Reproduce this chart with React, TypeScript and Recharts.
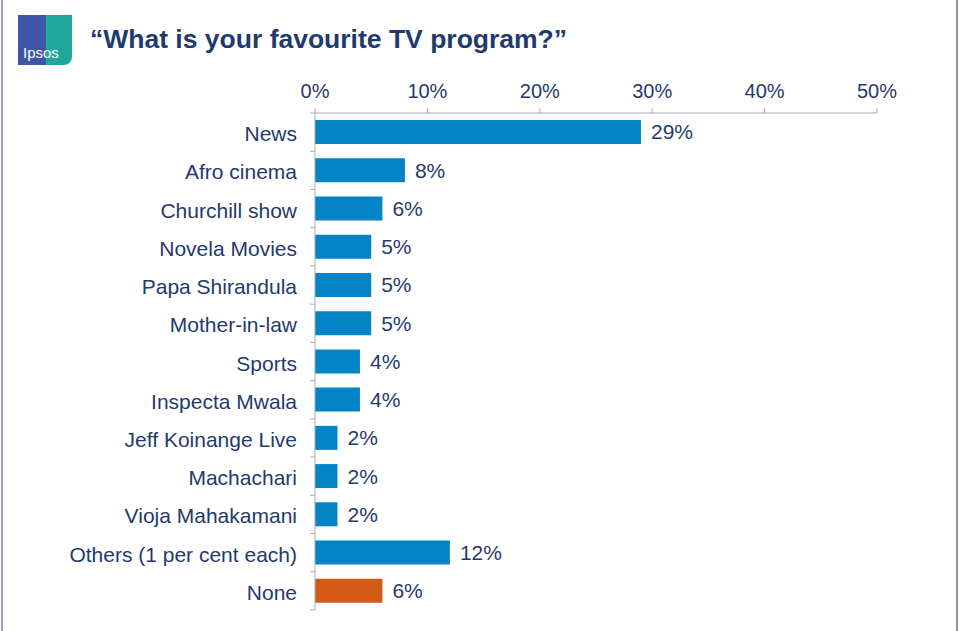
import React from 'react';
import { BarChart, Bar, XAxis, YAxis, LabelList, Cell } from 'recharts';

const programs = [
  'News',
  'Afro cinema',
  'Churchill show',
  'Novela Movies',
  'Papa Shirandula',
  'Mother-in-law',
  'Sports',
  'Inspecta Mwala',
  'Jeff Koinange Live',
  'Machachari',
  'Vioja Mahakamani',
  'Others (1 per cent each)',
  'None',
];
const shares = [29, 8, 6, 5, 5, 5, 4, 4, 2, 2, 2, 12, 6];
const percentTicks = [0, 10, 20, 30, 40, 50];

const data = programs.map((name, i) => ({ name, value: shares[i] }));

const NAVY = '#1f3a6e';
const BLUE = '#0284c7';
const ORANGE = '#d55a17';
const AXIS = '#a3abb9';

const PLOT_TOP = 113;
const PLOT_BOTTOM = 610;
const BAND = (PLOT_BOTTOM - PLOT_TOP) / programs.length;

const CategoryTick = (props: any) => {
  const { x, y, payload } = props;
  return (
    <g>
      <text x={x} y={y} dy={9} textAnchor="end" fill={NAVY} fontSize={21}>
        {payload.value}
      </text>
      <line x1={310} x2={315} y1={y + BAND / 2} y2={y + BAND / 2} stroke={AXIS} />
      {payload.index === 0 && (
        <line x1={310} x2={315} y1={y - BAND / 2} y2={y - BAND / 2} stroke={AXIS} />
      )}
    </g>
  );
};

export default function App() {
  return (
    <div
      style={{
        position: 'absolute',
        left: 0,
        top: 0,
        width: 960,
        height: 631,
        background: '#fff',
        fontFamily: '"Liberation Sans", Arial, sans-serif',
        overflow: 'hidden',
      }}
    >
      <div style={{ position: 'absolute', left: 1, top: 0, width: 2, height: 631, background: '#9aa0aa' }} />
      <div style={{ position: 'absolute', left: 956, top: 0, width: 2, height: 631, background: '#8c939d' }} />
      <div
        style={{
          position: 'absolute',
          left: 18,
          top: 15,
          width: 54,
          height: 50,
          background: 'linear-gradient(90deg, #3f56a8 0%, #3f56a8 52%, #1fa99b 52%, #1fa99b 100%)',
          borderBottomRightRadius: 8,
        }}
      >
        <span
          style={{
            position: 'absolute',
            left: 5,
            bottom: 4,
            color: '#fff',
            fontSize: 15,
          }}
        >
          Ipsos
        </span>
      </div>
      <div
        style={{
          position: 'absolute',
          left: 90,
          top: 24,
          color: NAVY,
          fontSize: 26.5,
          fontWeight: 'bold',
        }}
      >
        “What is your favourite TV program?”
      </div>
      <div style={{ position: 'absolute', left: 0, top: 0 }}>
        <BarChart
          width={960}
          height={631}
          data={data}
          layout="vertical"
          margin={{ top: 83, right: 83, bottom: 21, left: 15 }}
          barSize={24}
        >
          <XAxis
            type="number"
            orientation="top"
            domain={[0, 50]}
            ticks={percentTicks}
            tickFormatter={(v: number) => `${v}%`}
            height={30}
            stroke={AXIS}
            tickSize={5}
            tick={{ fill: NAVY, fontSize: 20 }}
            tickMargin={10}
          />
          <YAxis
            type="category"
            dataKey="name"
            width={300}
            stroke={AXIS}
            tickLine={false}
            tickMargin={12}
            tick={<CategoryTick />}
            interval={0}
          />
          <Bar dataKey="value" isAnimationActive={false}>
            {data.map((d) => (
              <Cell key={d.name} fill={d.name === 'None' ? ORANGE : BLUE} />
            ))}
            <LabelList
              dataKey="value"
              position="right"
              offset={10}
              formatter={(v: any) => `${v}%`}
              fill={NAVY}
              fontSize={21}
            />
          </Bar>
        </BarChart>
      </div>
    </div>
  );
}
